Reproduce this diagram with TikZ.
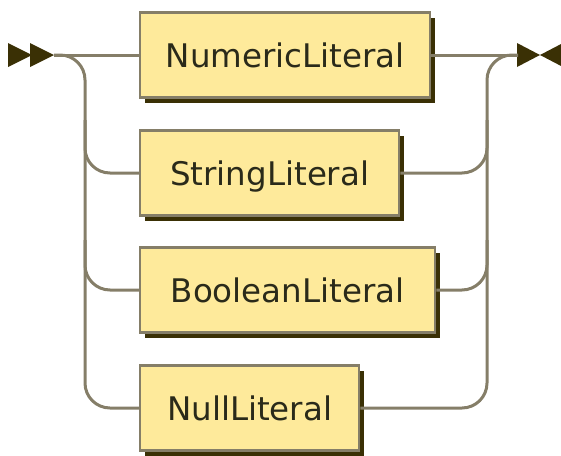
\documentclass[tikz,border=0pt]{standalone}
\usepackage{fontspec}
\setmainfont{DejaVu Sans}
\usetikzlibrary{shadows}
\definecolor{rrline}{HTML}{857E68}
\definecolor{rrdark}{HTML}{3A3005}
\definecolor{rrfill}{HTML}{FEEA9B}
\definecolor{rrtext}{HTML}{2A2A1A}
\begin{document}
\begin{tikzpicture}[x=1pt,y=-1pt,
  nt/.style={draw=rrline, line width=2.4pt, fill=rrfill, minimum height=85pt,
    inner sep=0pt, text height=24pt, text depth=0pt, anchor=west,
    text=rrtext, font=\fontsize{32.5}{33}\selectfont,
    drop shadow={shadow xshift=5pt, shadow yshift=-5pt, fill=rrdark, opacity=1}},
  rail/.style={draw=rrline, line width=3pt},
  curvy/.style={rail, rounded corners=25pt},
  marker/.style={fill=rrdark},
]
\useasboundingbox (0,0) rectangle (561,455);

% markers
\fill[marker] (8,43) -- (32,55) -- (8,67) -- cycle;
\fill[marker] (30,43) -- (54,55) -- (30,67) -- cycle;
\fill[marker] (517,43) -- (540,55) -- (517,67) -- cycle;
\fill[marker] (563,43) -- (540,55) -- (563,67) -- cycle;
\coordinate (start) at (54,55);
\coordinate (rrail) at (487,55);
\coordinate (end) at (518,55);

% boxes
\node[nt, minimum width=290pt] (n1) at (139,55) {NumericLiteral};
\node[nt, minimum width=259pt] (n2) at (139,173) {StringLiteral};
\node[nt, minimum width=295pt] (n3) at (139,290) {BooleanLiteral};
\node[nt, minimum width=219pt] (n4) at (139,408) {NullLiteral};

% left side
\draw[rail] (start) -- (n1.west);
\draw[curvy] (start) -| (85,408) -- (n4.west);
\draw[curvy] (85,120) |- (n2.west);
\draw[curvy] (85,240) |- (n3.west);

% right side
\draw[rail] (n1.east) -- (end);
\draw[curvy] (n4.east) -| (rrail) -- (end);
\draw[curvy] (n2.east) -| (487,120);
\draw[curvy] (n3.east) -| (487,240);
\end{tikzpicture}
\end{document}
